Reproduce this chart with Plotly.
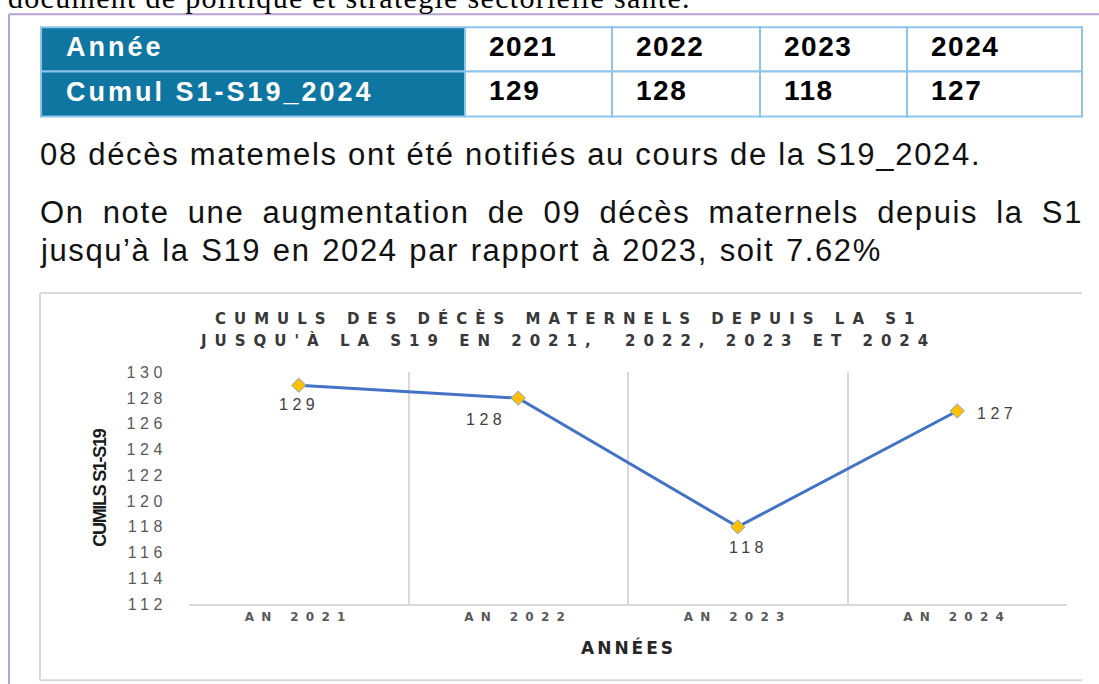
import plotly.graph_objects as go

# ---------------- data ----------------
years = ["2021", "2022", "2023", "2024"]
cumul = [129, 128, 118, 127]
categories = ["AN 2021", "AN 2022", "AN 2023", "AN 2024"]
y_ticks = [112, 114, 116, 118, 120, 122, 124, 126, 128, 130]

row_labels = ["Année", "Cumul S1-S19_2024"]
top_text = "document de politique et stratégie sectorielle santé."
para1 = "08 décès matemels ont été notifiés au cours de la S19_2024."
para2 = "On note une augmentation de 09 décès maternels depuis la S1"
para3 = "jusqu’à la S19 en 2024 par rapport à 2023, soit 7.62%"
title1 = "CUMULS DES DÉCÈS MATERNELS DEPUIS LA S1"
title2 = "JUSQU'À LA S19 EN 2021,  2022, 2023 ET 2024"
y_title = "CUMILS S1-S19"
x_title = "ANNÉES"

# ---------------- layout helpers ----------------
W, H = 1099, 684
VS, VO = 0.972, 8.8   # empirical vertical calibration of the capture


def px(x):
    return x / W


def py(y):
    return 1 - ((y - VO) / VS) / H


def spaced(t, ls, ws=None):
    st = f"letter-spacing:{ls}px"
    if ws is not None:
        st += f";word-spacing:{ws}px"
    return f'<span style="{st}">{t}</span>'


TEAL = "#0E76A0"
TBORDER = "#8EC3EA"
GRID = "#D9D9D9"
PURPLE = "#B7A3D3"
SANS = "Liberation Sans, Arial"

fig = go.Figure()

fig.add_trace(go.Scatter(
    x=categories, y=cumul, mode="lines+markers",
    line=dict(color="#4472C4", width=3),
    marker=dict(symbol="diamond", size=11, color="#FFC000",
                line=dict(color="#7FA3DD", width=1)),
    hoverinfo="skip", showlegend=False,
))

shapes = []
annotations = []

# purple page frame
shapes.append(dict(type="line", xref="paper", yref="paper",
                   x0=px(9), x1=px(1099), y0=py(15), y1=py(15),
                   line=dict(color=PURPLE, width=2)))
shapes.append(dict(type="line", xref="paper", yref="paper",
                   x0=px(9), x1=px(9), y0=py(15), y1=py(690),
                   line=dict(color=PURPLE, width=2)))

# table
col_edges = [41, 465, 612, 760, 907, 1082]
row_edges = [28, 72, 117]
for r in range(2):
    shapes.append(dict(type="rect", xref="paper", yref="paper",
                       x0=px(col_edges[0]), x1=px(col_edges[1]),
                       y0=py(row_edges[r]), y1=py(row_edges[r + 1]),
                       fillcolor=TEAL, line=dict(color=TBORDER, width=2), layer="below"))
    for c in range(1, 5):
        shapes.append(dict(type="rect", xref="paper", yref="paper",
                           x0=px(col_edges[c]), x1=px(col_edges[c + 1]),
                           y0=py(row_edges[r]), y1=py(row_edges[r + 1]),
                           fillcolor="white", line=dict(color=TBORDER, width=2), layer="below"))

for r, lab in enumerate(row_labels):
    annotations.append(dict(xref="paper", yref="paper", x=px(64),
                            y=py((row_edges[r] + row_edges[r + 1]) / 2 - 2),
                            text=spaced(f"<b>{lab}</b>", 3), showarrow=False, xanchor="left",
                            yanchor="middle",
                            font=dict(family=SANS, size=27, color="white")))
row_values = [years, [str(v) for v in cumul]]
for r, vals in enumerate(row_values):
    for c, v in enumerate(vals):
        annotations.append(dict(xref="paper", yref="paper", x=px(col_edges[c + 1] + 22),
                                y=py((row_edges[r] + row_edges[r + 1]) / 2 - 3),
                                text=spaced(f"<b>{v}</b>", 1.5), showarrow=False, xanchor="left",
                                yanchor="middle",
                                font=dict(family=SANS, size=28, color="black")))

# top cut-off serif line
annotations.append(dict(xref="paper", yref="paper", x=px(6), y=py(-2),
                        text=spaced(top_text, 1.3), showarrow=False, xanchor="left",
                        yanchor="middle",
                        font=dict(family="Liberation Serif, Times New Roman", size=30, color="black")))

# paragraphs
for txt, yc, ws in [(para1, 155, None), (para2, 213, 8), (para3, 251, 1.5)]:
    annotations.append(dict(xref="paper", yref="paper", x=px(38), y=py(yc),
                            text=spaced(txt, 1.7 if ws is None else 1.6, ws), showarrow=False,
                            xanchor="left", yanchor="middle",
                            font=dict(family=SANS, size=31, color="#111111")))

# chart frame
shapes.append(dict(type="line", xref="paper", yref="paper",
                   x0=px(40), x1=px(1082), y0=py(293), y1=py(293),
                   line=dict(color=GRID, width=2)))
shapes.append(dict(type="line", xref="paper", yref="paper",
                   x0=px(40), x1=px(1082), y0=py(679), y1=py(679),
                   line=dict(color=GRID, width=2)))
shapes.append(dict(type="line", xref="paper", yref="paper",
                   x0=px(40), x1=px(40), y0=py(293), y1=py(679),
                   line=dict(color=GRID, width=2)))

# chart title
for txt, yc in [(title1, 318), (title2, 340)]:
    annotations.append(dict(xref="paper", yref="paper", x=px(568), y=py(yc),
                            text=spaced(f"<b>{txt}</b>", 8), showarrow=False,
                            xanchor="center", yanchor="middle",
                            font=dict(family="DejaVu Sans", size=15, color="#383838")))

# axis titles
annotations.append(dict(xref="paper", yref="paper", x=px(100), y=py(487),
                        text=spaced(f"<b>{y_title}</b>", -1.3), showarrow=False, textangle=-90,
                        xanchor="center", yanchor="middle",
                        font=dict(family=SANS, size=18, color="#1a1a1a")))
annotations.append(dict(xref="paper", yref="paper", x=px(628), y=py(646),
                        text=spaced(f"<b>{x_title}</b>", 3), showarrow=False,
                        xanchor="center", yanchor="middle",
                        font=dict(family="DejaVu Sans", size=17, color="#262626")))

# data labels
label_dx = [0, -32, 11, 40]
label_dy = [-19, -21, -21, -3]
for cat, v, dx, dy in zip(categories, cumul, label_dx, label_dy):
    annotations.append(dict(x=cat, y=v, xref="x", yref="y", text=spaced(str(v), 4.5),
                            showarrow=False, xshift=dx, yshift=dy,
                            font=dict(family=SANS, size=16, color="#404040")))

fig.update_layout(
    width=W, height=H, autosize=False,
    margin=dict(l=0, r=0, t=0, b=0),
    paper_bgcolor="white", plot_bgcolor="white",
    shapes=shapes, annotations=annotations,
    xaxis=dict(domain=[px(189), px(1067)], type="category", range=[-0.5, 3.5],
               tickson="boundaries", showgrid=True, gridcolor=GRID, gridwidth=2,
               showline=True, linecolor=GRID, linewidth=2,
               ticks="outside", ticklen=10, tickcolor="rgba(0,0,0,0)",
               tickvals=categories, ticktext=[spaced(f"<b>{c}</b>", 7.3) for c in categories],
               tickfont=dict(family="DejaVu Sans", size=12, color="#595959"),
               zeroline=False, fixedrange=True),
    yaxis=dict(domain=[py(603), py(372)], range=[112, 130],
               tickvals=y_ticks, ticktext=[spaced(str(t), 4.5) for t in y_ticks],
               showgrid=False, showline=False, zeroline=False,
               ticks="outside", ticklen=18, tickcolor="rgba(0,0,0,0)",
               tickfont=dict(family=SANS, size=16, color="#595959"),
               fixedrange=True),
)

fig.write_html(
    "out.html", config={"displayModeBar": False},
    post_script=("document.body.style.margin='0';document.body.style.overflow='hidden';"
                 "document.querySelectorAll('svg.main-svg').forEach(function(s){s.style.overflow='visible';});"),
)
